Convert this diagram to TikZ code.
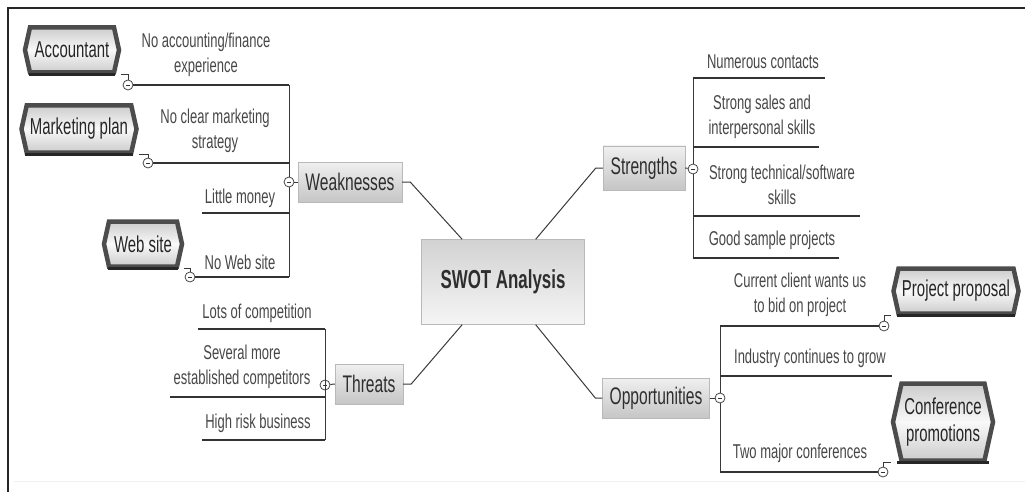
\documentclass[tikz,border=0pt]{standalone}
\usepackage{fontspec}
\newfontfamily\nar{Liberation Sans}[FakeStretch=0.65]
\usetikzlibrary{shapes.symbols,calc}

\tikzset{
  leaf/.style={align=center, inner sep=0pt, text=black!72,
    font=\nar\fontsize{20}{25.5}\selectfont},
  topic/.style={draw=gray!55, top color=gray!12, bottom color=gray!45,
    minimum height=40pt, inner xsep=6pt, text=black!82,
    font=\nar\fontsize{24}{28}\selectfont},
  core/.style={draw=gray!55, top color=gray!35, bottom color=gray!8,
    minimum width=163pt, minimum height=85pt, text=black!82,
    font=\nar\bfseries\fontsize{26}{30}\selectfont},
  callout/.style={shape=signal, signal to=east and west, signal pointer angle=155,
    draw=gray!60!black, line width=4.5pt, top color=gray!40, bottom color=gray!40,
    middle color=gray!5, align=center, inner sep=1pt, text=black!85,
    font=\nar\fontsize{23}{27}\selectfont},
  calloutbase/.style={draw=gray!30!black, line width=3pt},
  knob/.style={circle, draw=gray!55!black, fill=white, line width=0.8pt,
    minimum size=10pt, inner sep=0pt,
    path picture={\draw[gray!40!black, line width=0.8pt]
      ([xshift=-2.2pt]path picture bounding box.center) --
      ([xshift=2.2pt]path picture bounding box.center);}},
  link/.style={draw=gray!45!black, line width=1pt},
  rule/.style={draw=gray!40!black, line width=1.2pt},
}

\begin{document}
\begin{tikzpicture}[x=1pt,y=-1pt]
\useasboundingbox (0,0) rectangle (1025,492);

% page frame
\draw[line width=2.2pt, black!85] (1025,8) -- (8,8) -- (8,492);
\draw[gray!12, line width=1pt] (14,481) -- (1025,481);

% central topic and main branches
\node[core] (swot) at (503,282) {SWOT Analysis};
\node[topic, minimum width=104pt] (weak) at (350,182) {Weaknesses};
\node[topic, minimum width=82pt, minimum height=44pt] (str) at (644,168) {Strengths};
\node[topic, minimum width=68pt] (thr) at (369,384) {Threats};
\node[topic, minimum width=107pt] (opp) at (656,398) {Opportunities};

\coordinate (swA) at ($(swot.north west)!0.25!(swot.north east)$);
\coordinate (swB) at ($(swot.north west)!0.70!(swot.north east)$);
\coordinate (swC) at ($(swot.south west)!0.25!(swot.south east)$);
\coordinate (swD) at ($(swot.south west)!0.70!(swot.south east)$);

\draw[link] (weak.east) -- ++(8,0) -- (swA);
\draw[link] (str.west) -- ++(-7,0) -- (swB);
\draw[link] (thr.east) -- ++(8,0) -- (swC);
\draw[link] (opp.west) -- ++(-7,0) -- (swD);

% ---------------- Weaknesses ----------------
\node[knob] (kw) at (289,182) {};
\draw[link] (weak.west) -- (kw);

\node[leaf] (w1) at (206,55) {No accounting/finance\\experience};
\node[leaf] (w2) at (215,131) {No clear marketing\\strategy};
\node[leaf] (w3) at (240,198) {Little money};
\node[leaf] (w4) at (240,262) {No Web site};

\coordinate (bw1) at (289,85);
\coordinate (bw2) at (289,163);
\coordinate (bw3) at (289,213);
\coordinate (bw4) at (289,277);
\draw[link] (bw1) -- (kw) -- (bw4);

\node[knob] (kw1) at (128,85) {};
\node[knob] (kw2) at (148,163) {};
\coordinate (ew3) at (202,213);
\node[knob] (kw4) at (190,277) {};

\draw[rule] (kw1) -- (bw1);
\draw[rule] (kw2) -- (bw2);
\draw[rule] (ew3) -- (bw3);
\draw[rule] (kw4) -- (bw4);

\node[callout, minimum width=94pt, minimum height=45pt] (acc) at (72,50) {Accountant};
\node[callout, minimum width=115pt, minimum height=47pt] (mkt) at (79,129) {Marketing plan};
\node[callout, minimum width=78pt, minimum height=45pt] (web) at (143,244) {Web site};

\foreach \c in {acc,mkt,web}{
  \draw[calloutbase] ($(\c.south -| \c.west)+(6,0)$) -- ($(\c.south -| \c.east)+(-6,0)$);
}

\draw[link] (acc.south -| acc.east) -| (kw1);
\draw[link] (mkt.south -| mkt.east) -| (kw2);
\draw[link] (web.south -| web.east) -| (kw4);

% ---------------- Threats ----------------
\node[knob] (kt) at (325,385) {};
\draw[link] (thr.west) -- (kt);

\node[leaf] (t1) at (257,313) {Lots of competition};
\node[leaf] (t2) at (242,367) {Several more\\established competitors};
\node[leaf] (t3) at (258,423) {High risk business};

\coordinate (bt1) at (325,329);
\coordinate (bt2) at (325,397);
\coordinate (bt3) at (325,440);
\draw[link] (bt1) -- (bt3);

\coordinate (et1) at (198,329);
\coordinate (et2) at (170,397);
\coordinate (et3) at (202,440);
\draw[rule] (et1) -- (bt1);
\draw[rule] (et2) -- (bt2);
\draw[rule] (et3) -- (bt3);

% ---------------- Strengths ----------------
\node[knob] (ks) at (693,169) {};
\draw[link] (str.east) -- (ks);

\node[leaf] (s1) at (763,62) {Numerous contacts};
\node[leaf] (s2) at (762,117) {Strong sales and\\interpersonal skills};
\node[leaf] (s3) at (782,185) {Strong technical/software\\skills};
\node[leaf] (s4) at (772,240) {Good sample projects};

\coordinate (bs1) at (693,78);
\coordinate (bs2) at (693,147);
\coordinate (bs3) at (693,216);
\coordinate (bs4) at (693,258);
\draw[link] (bs1) -- (ks) -- (bs4);

\coordinate (es1) at (825,78);
\coordinate (es2) at (819,147);
\coordinate (es3) at (860,216);
\coordinate (es4) at (839,258);
\draw[rule] (bs1) -- (es1);
\draw[rule] (bs2) -- (es2);
\draw[rule] (bs3) -- (es3);
\draw[rule] (bs4) -- (es4);

% ---------------- Opportunities ----------------
\node[knob] (ko) at (720,398) {};
\draw[link] (opp.east) -- (ko);

\node[leaf] (o1) at (800,295) {Current client wants us\\to bid on project};
\node[leaf] (o2) at (810,358) {Industry continues to grow};
\node[leaf] (o3) at (800,453) {Two major conferences};

\coordinate (bo1) at (720,326);
\coordinate (bo2) at (720,376);
\coordinate (bo3) at (720,472);
\draw[link] (bo1) -- (ko) -- (bo3);

\node[knob] (ko1) at (884,326) {};
\coordinate (eo2) at (892,376);
\node[knob] (ko3) at (883,472) {};
\draw[rule] (bo1) -- (ko1);
\draw[rule] (bo2) -- (eo2);
\draw[rule] (bo3) -- (ko3);

\node[callout, minimum width=125pt, minimum height=45pt] (pp) at (956,291) {Project proposal};
\node[callout, minimum width=100pt, minimum height=77pt] (cp) at (943,422) {Conference\\promotions};

\foreach \c in {pp,cp}{
  \draw[calloutbase] ($(\c.south -| \c.west)+(6,0)$) -- ($(\c.south -| \c.east)+(-6,0)$);
}

\draw[link] (pp.south -| pp.west) -| (ko1);
\draw[link] (cp.south -| cp.west) -| (ko3);
\end{tikzpicture}
\end{document}
